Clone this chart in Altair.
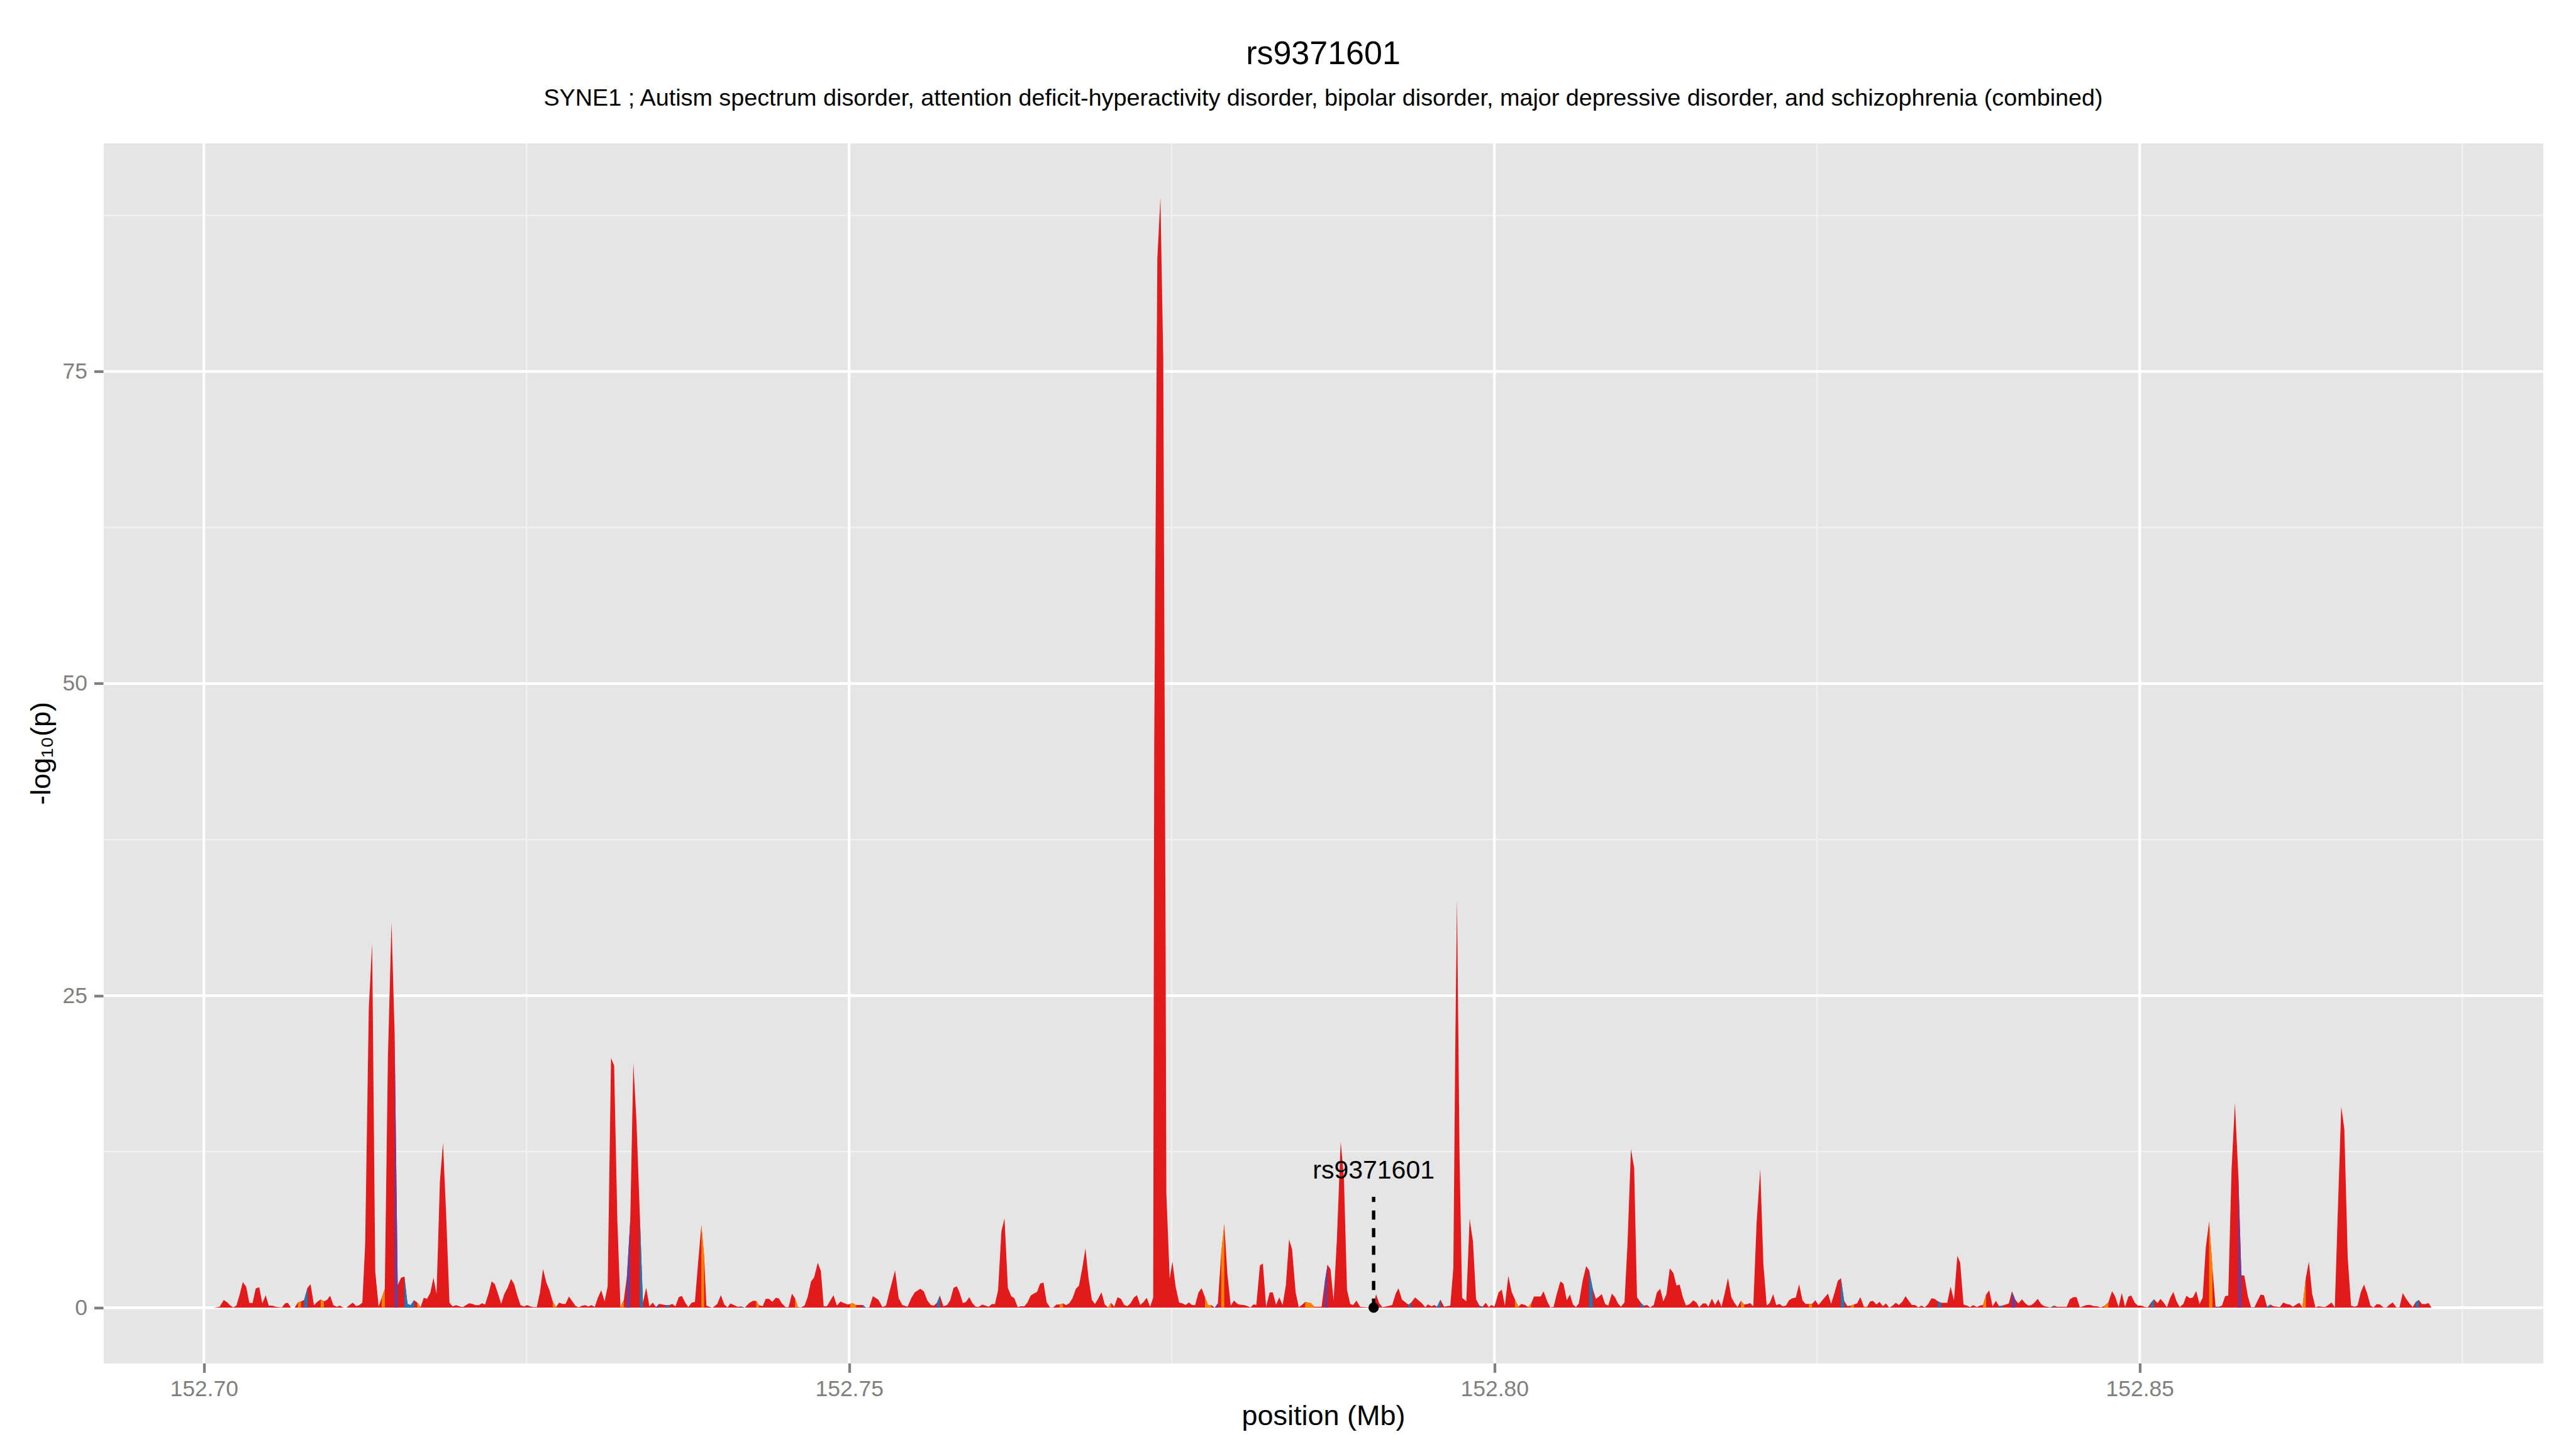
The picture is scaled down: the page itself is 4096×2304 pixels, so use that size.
import altair as alt
import pandas as pd

# ---------------- data ----------------
pos_mb = [
    152.70076, 152.70122, 152.70154, 152.70182, 152.70206, 152.70228, 152.70252, 152.70276, 152.70302, 152.70328,
    152.70352, 152.70377, 152.70402, 152.70429, 152.70453, 152.70479, 152.70503, 152.70529, 152.70558, 152.70605,
    152.70629, 152.70651, 152.70675, 152.70703, 152.70729, 152.70753, 152.70777, 152.70803, 152.70827, 152.70853,
    152.70879, 152.70905, 152.70930, 152.70954, 152.70978, 152.71004, 152.71030, 152.71054, 152.71078, 152.71104,
    152.71130, 152.71154, 152.71180, 152.71204, 152.71228, 152.71250, 152.71278, 152.71304, 152.71328, 152.71354,
    152.71378, 152.71402, 152.71426, 152.71454, 152.71478, 152.71502, 152.71528, 152.71554, 152.71578, 152.71602,
    152.71628, 152.71654, 152.71680, 152.71704, 152.71729, 152.71755, 152.71779, 152.71803, 152.71829, 152.71853,
    152.71877, 152.71903, 152.71927, 152.71955, 152.71981, 152.72007, 152.72031, 152.72055, 152.72081, 152.72105,
    152.72131, 152.72155, 152.72179, 152.72205, 152.72230, 152.72254, 152.72280, 152.72304, 152.72328, 152.72354,
    152.72380, 152.72404, 152.72428, 152.72454, 152.72480, 152.72506, 152.72530, 152.72556, 152.72580, 152.72604,
    152.72628, 152.72654, 152.72678, 152.72703, 152.72729, 152.72753, 152.72779, 152.72803, 152.72829, 152.72855,
    152.72879, 152.72905, 152.72929, 152.72955, 152.72979, 152.73005, 152.73029, 152.73053, 152.73079, 152.73105,
    152.73129, 152.73155, 152.73179, 152.73204, 152.73228, 152.73254, 152.73278, 152.73304, 152.73328, 152.73352,
    152.73378, 152.73402, 152.73428, 152.73452, 152.73478, 152.73504, 152.73528, 152.73554, 152.73580, 152.73606,
    152.73630, 152.73654, 152.73680, 152.73704, 152.73730, 152.73754, 152.73780, 152.73805, 152.73829, 152.73855,
    152.73876, 152.73894, 152.73917, 152.73941, 152.73978, 152.74006, 152.74033, 152.74058, 152.74080, 152.74108,
    152.74135, 152.74163, 152.74191, 152.74228, 152.74256, 152.74280, 152.74302, 152.74330, 152.74354, 152.74380,
    152.74404, 152.74432, 152.74455, 152.74479, 152.74507, 152.74531, 152.74557, 152.74581, 152.74603, 152.74627,
    152.74655, 152.74679, 152.74705, 152.74729, 152.74757, 152.74781, 152.74803, 152.74828, 152.74853, 152.74879,
    152.74905, 152.74933, 152.74961, 152.74989, 152.75007, 152.75026, 152.75054, 152.75106, 152.75128, 152.75156,
    152.75184, 152.75226, 152.75258, 152.75286, 152.75314, 152.75356, 152.75384, 152.75412, 152.75453, 152.75481,
    152.75508, 152.75551, 152.75579, 152.75605, 152.75633, 152.75657, 152.75681, 152.75703, 152.75731, 152.75759,
    152.75783, 152.75809, 152.75835, 152.75857, 152.75881, 152.75905, 152.75931, 152.75955, 152.75981, 152.76006,
    152.76032, 152.76056, 152.76082, 152.76106, 152.76130, 152.76154, 152.76180, 152.76204, 152.76230, 152.76256,
    152.76280, 152.76306, 152.76330, 152.76358, 152.76382, 152.76406, 152.76432, 152.76456, 152.76480, 152.76506,
    152.76531, 152.76557, 152.76581, 152.76607, 152.76631, 152.76657, 152.76681, 152.76707, 152.76731, 152.76757,
    152.76781, 152.76807, 152.76831, 152.76855, 152.76881, 152.76905, 152.76929, 152.76955, 152.76981, 152.77006,
    152.77030, 152.77054, 152.77080, 152.77106, 152.77132, 152.77156, 152.77180, 152.77206, 152.77230, 152.77256,
    152.77282, 152.77306, 152.77332, 152.77356, 152.77364, 152.77388, 152.77412, 152.77434, 152.77452, 152.77458,
    152.77484, 152.77505, 152.77530, 152.77557, 152.77583, 152.77607, 152.77633, 152.77657, 152.77681, 152.77707,
    152.77731, 152.77757, 152.77781, 152.77807, 152.77833, 152.77857, 152.77883, 152.77907, 152.77931, 152.77957,
    152.77982, 152.78009, 152.78030, 152.78065, 152.78093, 152.78111, 152.78134, 152.78155, 152.78183, 152.78206,
    152.78231, 152.78259, 152.78283, 152.78308, 152.78333, 152.78359, 152.78384, 152.78409, 152.78432, 152.78460,
    152.78484, 152.78508, 152.78533, 152.78578, 152.78605, 152.78661, 152.78686, 152.78707, 152.78730, 152.78754,
    152.78779, 152.78809, 152.78834, 152.78858, 152.78883, 152.78906, 152.78931, 152.78959, 152.79007, 152.79035,
    152.79059, 152.79083, 152.79107, 152.79132, 152.79180, 152.79208, 152.79236, 152.79257, 152.79284, 152.79333,
    152.79354, 152.79385, 152.79437, 152.79464, 152.79485, 152.79513, 152.79534, 152.79555, 152.79582, 152.79610,
    152.79658, 152.79682, 152.79696, 152.79710, 152.79730, 152.79750, 152.79782, 152.79808, 152.79834, 152.79858,
    152.79884, 152.79908, 152.79933, 152.79956, 152.79977, 152.80000, 152.80033, 152.80057, 152.80081, 152.80108,
    152.80134, 152.80159, 152.80186, 152.80209, 152.80237, 152.80261, 152.80285, 152.80307, 152.80335, 152.80359,
    152.80381, 152.80409, 152.80433, 152.80459, 152.80483, 152.80511, 152.80535, 152.80561, 152.80585, 152.80609,
    152.80632, 152.80654, 152.80684, 152.80711, 152.80734, 152.80762, 152.80786, 152.80808, 152.80832, 152.80858,
    152.80882, 152.80910, 152.80934, 152.80956, 152.80980, 152.81008, 152.81031, 152.81058, 152.81083, 152.81105,
    152.81133, 152.81157, 152.81183, 152.81207, 152.81235, 152.81259, 152.81285, 152.81309, 152.81333, 152.81359,
    152.81387, 152.81411, 152.81435, 152.81461, 152.81485, 152.81513, 152.81541, 152.81565, 152.81587, 152.81615,
    152.81639, 152.81658, 152.81685, 152.81710, 152.81735, 152.81760, 152.81787, 152.81810, 152.81836, 152.81858,
    152.81884, 152.81910, 152.81936, 152.81958, 152.81982, 152.82006, 152.82032, 152.82060, 152.82084, 152.82110,
    152.82134, 152.82160, 152.82184, 152.82209, 152.82233, 152.82259, 152.82283, 152.82309, 152.82335, 152.82361,
    152.82387, 152.82411, 152.82437, 152.82461, 152.82487, 152.82511, 152.82537, 152.82561, 152.82585, 152.82609,
    152.82635, 152.82661, 152.82685, 152.82710, 152.82735, 152.82761, 152.82786, 152.82810, 152.82836, 152.82863,
    152.82888, 152.82912, 152.82934, 152.82960, 152.82984, 152.83010, 152.83034, 152.83060, 152.83086, 152.83110,
    152.83134, 152.83160, 152.83186, 152.83210, 152.83235, 152.83259, 152.83285, 152.83309, 152.83335, 152.83361,
    152.83387, 152.83411, 152.83437, 152.83461, 152.83485, 152.83509, 152.83535, 152.83561, 152.83587, 152.83609,
    152.83635, 152.83661, 152.83685, 152.83711, 152.83737, 152.83761, 152.83786, 152.83810, 152.83834, 152.83860,
    152.83886, 152.83910, 152.83936, 152.83962, 152.83986, 152.84010, 152.84036, 152.84060, 152.84088, 152.84112,
    152.84138, 152.84162, 152.84186, 152.84210, 152.84236, 152.84262, 152.84311, 152.84335, 152.84361, 152.84403,
    152.84435, 152.84459, 152.84487, 152.84511, 152.84537, 152.84586, 152.84614, 152.84642, 152.84670, 152.84697,
    152.84725, 152.84757, 152.84786, 152.84809, 152.84837, 152.84861, 152.84887, 152.84913, 152.84935, 152.84961,
    152.84985, 152.85013, 152.85035, 152.85063, 152.85087, 152.85111, 152.85139, 152.85161, 152.85189, 152.85211,
    152.85235, 152.85261, 152.85286, 152.85310, 152.85338, 152.85362, 152.85388, 152.85412, 152.85438, 152.85464,
    152.85488, 152.85512, 152.85538, 152.85564, 152.85588, 152.85612, 152.85638, 152.85662, 152.85686, 152.85712,
    152.85738, 152.85764, 152.85788, 152.85811, 152.85838, 152.85863, 152.85889, 152.85913, 152.85937, 152.85963,
    152.85987, 152.86013, 152.86037, 152.86063, 152.86087, 152.86113, 152.86139, 152.86163, 152.86187, 152.86213,
    152.86237, 152.86261, 152.86287, 152.86311, 152.86337, 152.86362, 152.86386, 152.86412, 152.86436, 152.86462,
    152.86486, 152.86512, 152.86538, 152.86562, 152.86586, 152.86612, 152.86638, 152.86664, 152.86688, 152.86714,
    152.86738, 152.86762, 152.86788, 152.86812, 152.86838, 152.86863, 152.86888, 152.86913, 152.86937, 152.86961,
    152.86989, 152.87013, 152.87039, 152.87065, 152.87091, 152.87115, 152.87139, 152.87163, 152.87187, 152.87213,
    152.87239, 152.87261,
]

logp = [
    0, 0.07, 0.62, 0.42, 0.17, 0.03, 0.17, 1.0, 2.05, 1.68,
    0.39, 0.37, 1.54, 1.64, 0.34, 1.0, 0.17, 0.17, 0.07, 0.03,
    0.34, 0.39, 0, 0, 0.42, 0.5, 0.62, 1.59, 1.88, 0.2,
    0.47, 0.65, 0.5, 0.62, 0.96, 0.2, 0.08, 0.17, 0.03, 0,
    0.22, 0.4, 0.13, 0.2, 0.4, 5.1, 24.0, 29.2, 2.9, 0.1,
    0.8, 1.5, 20, 30.9, 22, 1.8, 2.4, 2.5, 0.3, 0.2,
    0.6, 0.4, 0.05, 0.8, 0.7, 1.2, 2.4, 1.1, 10.1, 13.2,
    7.6, 0.4, 0.1, 0.2, 0.1, 0.05, 0.2, 0.35, 0.3, 0.2,
    0.2, 0.35, 0.25, 1.1, 2.1, 1.9, 1.1, 0.3, 1.1, 1.6,
    2.3, 1.9, 1.0, 0.2, 0.1, 0.2, 0.1, 0.05, 0.05, 1.2,
    3.1, 2.0, 1.4, 0.5, 0.05, 0.4, 0.3, 0.3, 0.9, 0.5,
    0.15, 0.02, 0.15, 0.2, 0.1, 0.2, 0.05, 0.8, 1.4, 0.5,
    1.7, 20.0, 19.4, 7, 0.05, 0.6, 2.5, 7, 19.6, 15,
    7.5, 0.4, 1.6, 0.1, 0.4, 0.05, 0.3, 0.25, 0.2, 0.2,
    0.3, 0.1, 0.85, 0.95, 0.4, 0.05, 0.4, 0.45, 3.5, 6.6,
    4.2, 0.17, 0.08, 0, 0.29, 1.0, 0.25, 0.03, 0.34, 0.2,
    0.07, 0.1, 0, 0.39, 0.55, 0.54, 0.2, 0.12, 0.7, 0.7,
    0.47, 0.79, 0.74, 0.34, 0.05, 0.05, 1.12, 0.74, 0.05, 0.03,
    0.17, 0.87, 2.1, 2.43, 3.6, 2.94, 0.12, 0.12, 0.55, 1.0,
    0.17, 0.49, 0.37, 0.25, 0.3, 0.37, 0.22, 0.22, 0.03, 0.03,
    0.92, 0.64, 0.05, 0.17, 1.34, 2.99, 0.76, 0.22, 0.08, 0.76,
    1.22, 1.51, 1.31, 0.59, 0.22, 0.17, 0.4, 0.97, 0.12, 0.22,
    0.59, 1.59, 1.71, 1.17, 0.37, 0.45, 0.84, 0.37, 0.08, 0.08,
    0.25, 0.17, 0.08, 0.29, 0.29, 1.38, 6.12, 7.16, 1.59, 0.92,
    0.76, 0.05, 0.12, 0.12, 0.42, 0.96, 1.14, 1.26, 1.93, 2.01,
    0.42, 0.03, 0.03, 0.25, 0.25, 0.34, 0.2, 0.37, 0.76, 1.51,
    1.76, 3.19, 4.75, 2.35, 0.62, 0.29, 0.7, 1.24, 0.25, 0.03,
    0.39, 0.08, 0.84, 0.7, 0.22, 0.13, 0.34, 0.81, 1.0, 0.22,
    0.47, 0.79, 0.08, 0.79, 45, 84, 88.9, 76, 30, 9.2,
    2.3, 3.7, 1.68, 0.42, 0.34, 0.22, 0.42, 0.22, 0.2, 1.21,
    1.56, 0.84, 0.22, 0.22, 0, 0.34, 4.36, 6.71, 2.68, 0.17,
    0.57, 0.3, 0.24, 0.2, 0.1, 0.03, 0.26, 0.21, 3.37, 3.54,
    0.07, 1.22, 1.22, 0.24, 0.82, 0.21, 1.79, 5.47, 4.68, 1.22,
    0.04, 0.21, 0.46, 0.36, 0.07, 0.07, 2.08, 3.44, 3.08, 0.57,
    5.37, 13.3, 10.4, 1.43, 0.29, 0.21, 0.57, 0.07, 0.04, 0,
    0.05, 1.07, 0.36, 0.04, 0.14, 0.21, 1.15, 1.55, 0.64, 0.24,
    0.39, 0.82, 0.36, 0.04, 0.26, 0.1, 0.21, 0.07, 0.64, 0.07,
    0.17, 3.2, 20, 32.8, 12, 0.8, 0.5, 7.13, 5.3, 0.67,
    0.17, 0.07, 0.39, 0.04, 0.21, 0.07, 1.22, 1.45, 0.17, 2.55,
    1.26, 0.67, 0.08, 0.3, 0.22, 0.05, 0.34, 0.89, 0.89, 0.89,
    1.31, 0.5, 0.03, 0.08, 1.09, 2.1, 1.93, 0.59, 1.06, 0.25,
    0.05, 0.34, 2.18, 3.32, 2.99, 1.51, 0.7, 0.87, 1.09, 0.29,
    0.17, 1.12, 0.84, 0.37, 0.08, 0.42, 5.03, 12.7, 11.2, 0.84,
    0.42, 0.17, 0.22, 0.03, 0.22, 1.22, 1.51, 0.5, 1.09, 3.15,
    2.77, 1.76, 1.85, 0.81, 0.17, 0.29, 0.59, 0.42, 0.03, 0.34,
    0.34, 0.08, 0.72, 0.22, 0.67, 0.08, 1.26, 2.38, 0.84, 0.42,
    0.05, 0.55, 0.25, 0.29, 0.37, 0.12, 6.88, 11.1, 3.52, 0.17,
    0.39, 1.09, 0.2, 0.3, 0.12, 0.17, 0.59, 0.76, 0.81, 1.88,
    0.59, 0.3, 0.3, 0.3, 0.59, 0.22, 0.54, 0.84, 1.12, 0.3,
    1.17, 2.15, 2.35, 0.54, 0.13, 0.17, 0.25, 0.34, 0.84, 0.08,
    0.08, 0.5, 0.54, 0.25, 0.47, 0.12, 0.34, 0, 0.17, 0.39,
    0.22, 0.47, 0.92, 0.55, 0.22, 0.22, 0.03, 0.17, 0.03, 0.29,
    0.76, 0.7, 0.5, 0.39, 0.39, 0.39, 1.68, 0.59, 4.16, 3.61,
    0.25, 0.17, 0.05, 0.2, 0.05, 0.17, 0.22, 1.04, 1.38, 0.12,
    0.54, 0.13, 0.17, 0.25, 0.34, 1.31, 0.64, 0.34, 0.67, 0.37,
    0.17, 0.22, 0.42, 0.7, 0.29, 0.12, 0.03, 0.17, 0.08, 0.08,
    0.08, 0.67, 0.84, 0.84, 0.03, 0.2, 0.23, 0.13, 0.12, 0.03,
    0.13, 0.42, 1.31, 0.92, 0.05, 1.17, 0.08, 0.89, 0.97, 0.42,
    0.17, 0.17, 0.08, 0.03, 0.39, 0.67, 0.37, 0.7, 0.37, 0.03,
    0.76, 1.26, 0.5, 0.05, 0.29, 0.96, 0.76, 0.81, 1.34, 0.29,
    0.81, 4.78, 6.91, 3.19, 0.08, 0.08, 0.17, 0.92, 0.97, 11.1,
    16.4, 10.7, 2.6, 2.57, 0.92, 0.03, 0.03, 0.54, 1.04, 1.0,
    0.08, 0.25, 0.12, 0.08, 0.05, 0.42, 0.29, 0.25, 0.08, 0.25,
    0.39, 0.03, 2.35, 3.69, 1.09, 0.03, 0.12, 0.08, 0.05, 0.22,
    0.42, 0.03, 8.56, 16.1, 14.3, 4.03, 0.17, 0.08, 0.17, 1.26,
    1.85, 1.17, 0.17, 0.03, 0.29, 0.25, 0.03, 0.03, 0.25, 0.42,
    0.03, 0.03, 1.17, 0.7, 0.34, 0.05, 0.45, 0.62, 0.29, 0.29,
    0.37, 0,
]

# short stretches of the curve that carry another colour (start, end, group)
seg_start = [
    152.70729, 152.70777, 152.70905, 152.71378, 152.71478, 152.71554, 152.71654, 152.72703,
    152.73228, 152.73278, 152.73378, 152.73504, 152.73580, 152.73855, 152.74163, 152.74280,
    152.74581, 152.75007, 152.75106, 152.75681, 152.76631, 152.77006, 152.77757, 152.77833,
    152.77883, 152.78533, 152.78686, 152.79007, 152.79333, 152.79555, 152.79884, 152.80159,
    152.80261, 152.80734, 152.81133, 152.81910, 152.82437, 152.82685, 152.82761, 152.82863,
    152.83437, 152.83786, 152.83910, 152.84010, 152.84311, 152.84725, 152.85087, 152.85538,
    152.85588, 152.85764, 152.85863, 152.85987, 152.86261, 152.87139,
]
seg_end = [
    152.70753, 152.70803, 152.70930, 152.71402, 152.71502, 152.71628, 152.71680, 152.72729,
    152.73254, 152.73304, 152.73402, 152.73528, 152.73606, 152.73876, 152.74191, 152.74302,
    152.74603, 152.75054, 152.75128, 152.75703, 152.76657, 152.77030, 152.77807, 152.77857,
    152.77907, 152.78605, 152.78707, 152.79035, 152.79354, 152.79582, 152.79908, 152.80186,
    152.80285, 152.80762, 152.81157, 152.81936, 152.82461, 152.82710, 152.82786, 152.82888,
    152.83461, 152.83810, 152.83936, 152.84036, 152.84335, 152.84757, 152.85111, 152.85564,
    152.85612, 152.85788, 152.85889, 152.86013, 152.86287, 152.87163,
]
seg_group = [
    "orange", "blue", "orange", "orange", "purple", "blue", "orange", "orange",
    "orange", "purple", "blue", "purple", "blue", "orange", "blue", "orange",
    "orange", "orange", "blue", "blue", "orange", "orange", "orange", "purple",
    "orange", "orange", "purple", "orange", "blue", "blue", "blue", "orange",
    "orange", "blue", "blue", "orange", "orange", "blue", "orange", "orange",
    "blue", "orange", "blue", "purple", "blue", "orange", "blue", "orange",
    "blue", "purple", "blue", "blue", "orange", "blue",
]

group_names = ["red", "blue", "orange", "purple"]
group_colors = ["#E31A1C", "#1F78B4", "#FF7F00", "#6A3D9A"]

x_major = [152.70, 152.75, 152.80, 152.85]
x_minor = [152.725, 152.775, 152.825, 152.875]
y_major = [0, 25, 50, 75]
y_minor = [12.5, 37.5, 62.5, 87.5]

snp_names = ["rs9371601"]
snp_pos = [152.79064]
snp_logp = [0]
snp_dash_top = [8.88]
snp_label_y = [10.35]

title_text = "rs9371601"
subtitle_text = ("SYNE1 ; Autism spectrum disorder, attention deficit-hyperactivity disorder, "
                 "bipolar disorder, major depressive disorder, and schizophrenia (combined)")

# ---------------- tables ----------------
main_df = pd.DataFrame({"pos": pos_mb, "logp": logp})

seg_rows = []
for i, (s, e, g) in enumerate(zip(seg_start, seg_end, seg_group)):
    part = main_df[(main_df["pos"] >= s - 1e-7) & (main_df["pos"] <= e + 1e-7)]
    for p, v in zip(part["pos"], part["logp"]):
        seg_rows.append({"pos": p, "logp": v, "seg": i, "group": g})
seg_df = pd.DataFrame(seg_rows)

snp_df = pd.DataFrame({"pos": snp_pos, "logp": snp_logp, "top": snp_dash_top,
                       "ly": snp_label_y, "name": snp_names})

W, H = 3879, 1940
FONT = "Liberation Sans"

xscale = alt.Scale(domain=[152.69222, 152.88125], nice=False, zero=False)
yscale = alt.Scale(domain=[-4.44, 93.3], nice=False, zero=False)
cscale = alt.Scale(domain=group_names, range=group_colors)

x_axis = alt.Axis(values=x_major, format=".2f", title="position (Mb)", grid=False,
                  titleY=98, titleBaseline="alphabetic")
y_axis = alt.Axis(values=y_major, format="d", title="-log\u2081\u2080(p)", grid=False,
                  titleX=-99, titleY=H / 2, titleAngle=270, titleBaseline="middle",
                  titleAlign="center")


def X(field):
    return alt.X(field, scale=xscale, axis=x_axis)


def Y(field):
    return alt.Y(field, scale=yscale, axis=y_axis)


minor_h = alt.Chart(pd.DataFrame({"v": y_minor})).mark_rule(color="#F2F2F2", strokeWidth=2.2).encode(
    y=Y("v:Q"))
minor_v = alt.Chart(pd.DataFrame({"v": x_minor})).mark_rule(color="#F2F2F2", strokeWidth=2.2).encode(
    x=X("v:Q"))
major_h = alt.Chart(pd.DataFrame({"v": y_major})).mark_rule(color="#FFFFFF", strokeWidth=4.3).encode(
    y=Y("v:Q"))
major_v = alt.Chart(pd.DataFrame({"v": x_major})).mark_rule(color="#FFFFFF", strokeWidth=4.3).encode(
    x=X("v:Q"))

red_area = alt.Chart(main_df).mark_area(color="#E31A1C", interpolate="linear").encode(
    x=X("pos:Q"),
    y=Y("logp:Q"),
)

seg_area = alt.Chart(seg_df).mark_area(interpolate="linear").encode(
    x=X("pos:Q"),
    y=alt.Y("logp:Q", scale=yscale, axis=y_axis, stack=None),
    detail="seg:N",
    color=alt.Color("group:N", scale=cscale, legend=None),
)

dash = alt.Chart(snp_df).mark_rule(color="black", strokeWidth=5.4, strokeDash=[14.5, 13.5]).encode(
    x=X("pos:Q"),
    y=Y("logp:Q"),
    y2="top:Q",
)
dot = alt.Chart(snp_df).mark_circle(color="black", opacity=1, size=270).encode(
    x=X("pos:Q"),
    y=Y("logp:Q"),
)
label = alt.Chart(snp_df).mark_text(font=FONT, fontSize=41, color="black", align="center",
                                    baseline="alphabetic").encode(
    x=X("pos:Q"),
    y=Y("ly:Q"),
    text="name:N",
)

chart = alt.layer(minor_h, minor_v, major_h, major_v, red_area, seg_area, dash, dot, label).properties(
    width=W, height=H,
    padding={"left": 156.5, "top": 219.4, "right": 40, "bottom": 120},
    autosize=alt.AutoSizeParams(type="none"),
    title=alt.TitleParams(text=title_text, subtitle=subtitle_text, anchor="middle",
                          font=FONT, fontSize=52, fontWeight="normal", color="black",
                          subtitleFont=FONT, subtitleFontSize=37.75, subtitleColor="black",
                          offset=48.5, subtitlePadding=24.5),
).configure(
    font=FONT, background="white",
).configure_view(
    fill="#E5E5E5", stroke="transparent",
).configure_axis(
    domain=False, labelFont=FONT, labelFontSize=35.5, labelColor="#7F7F7F",
    tickColor="#7F7F7F", tickSize=15, tickWidth=4.3,
    titleFont=FONT, titleFontSize=45, titleFontWeight="normal", titleColor="black",
).configure_axisX(labelPadding=9).configure_axisY(labelPadding=11)

chart.save("out.html", embed_options={"renderer": "svg", "actions": False})
